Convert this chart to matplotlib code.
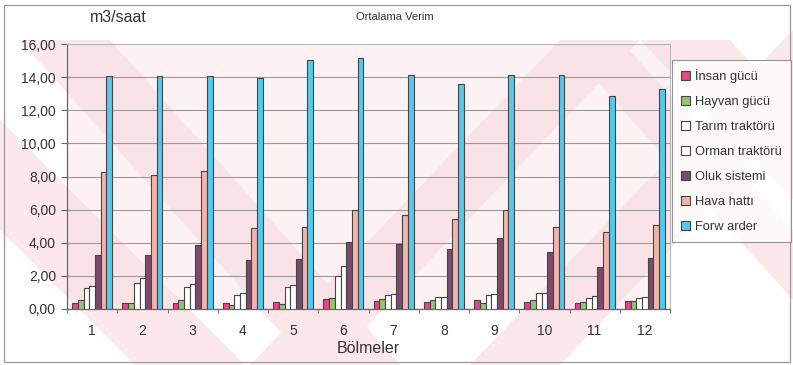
import matplotlib.pyplot as plt
import numpy as np
from matplotlib.patches import Polygon, Rectangle

plt.rcParams['font.family'] = ['Liberation Sans', 'DejaVu Sans']

bolmeler = ['1', '2', '3', '4', '5', '6', '7', '8', '9', '10', '11', '12']
series_names = ['İnsan gücü', 'Hayvan gücü', 'Tarım traktörü', 'Orman traktörü',
                'Oluk sistemi', 'Hava hattı', 'Forw arder']
insan = [0.35, 0.35, 0.35, 0.35, 0.40, 0.59, 0.47, 0.44, 0.53, 0.40, 0.35, 0.51]
hayvan = [0.53, 0.35, 0.53, 0.27, 0.30, 0.67, 0.61, 0.53, 0.39, 0.55, 0.42, 0.51]
tarim = [1.24, 1.58, 1.33, 0.87, 1.31, 2.02, 0.83, 0.75, 0.87, 0.99, 0.69, 0.67]
orman = [1.40, 1.86, 1.50, 0.95, 1.45, 2.59, 0.89, 0.75, 0.93, 0.99, 0.77, 0.75]
oluk = [3.27, 3.27, 3.86, 2.97, 3.00, 4.06, 3.90, 3.60, 4.27, 3.42, 2.53, 3.09]
hava = [8.30, 8.08, 8.32, 4.89, 4.93, 6.00, 5.68, 5.45, 5.96, 4.93, 4.65, 5.10]
forwarder = [14.06, 14.06, 14.08, 13.94, 15.02, 15.15, 14.10, 13.56, 14.15, 14.15, 12.86, 13.28]
colors = ['#e4478c', '#96c46a', '#ffffff', '#ffffff', '#7d4a6e', '#f3b4ab', '#56c9ea']

data = [insan, hayvan, tarim, orman, oluk, hava, forwarder]

fig = plt.figure(figsize=(7.93, 3.65), dpi=100)
fig.patch.set_facecolor('white')

W, H = 793, 365
def px(pts):
    return [(x / W, 1 - y / H) for x, y in pts]

# faint watermark stripes of the scanned page
stripe = '#fce8eb'
for pts in [
    [(20, 40), (110, 40), (400, 365), (310, 365)],
    [(0, 120), (0, 230), (135, 365), (245, 365)],
    [(250, 365), (330, 365), (640, 40), (560, 40)],
    [(470, 365), (560, 365), (793, 120), (793, 30)],
    [(640, 40), (730, 40), (793, 110), (793, 200)],
    [(560, 40), (620, 40), (793, 230), (793, 300)],
]:
    fig.patches.append(Polygon(px(pts), closed=True, transform=fig.transFigure,
                               facecolor=stripe, edgecolor='none', zorder=-5))

# outer chart border
fig.patches.append(Rectangle((4 / W, 1 - 362 / H), 786 / W, 357 / H, transform=fig.transFigure,
                             fill=False, edgecolor='#9a9a9a', lw=0.9, zorder=-4))

ax = fig.add_axes([67 / W, 1 - 309 / H, 603 / W, 265 / H])
ax.set_zorder(2)
ax.set_facecolor((0.975, 0.86, 0.88, 0.35))

x = np.arange(len(bolmeler))
bw = 0.114
for i, (vals, name, c) in enumerate(zip(data, series_names, colors)):
    ax.bar(x + (i - 3) * bw, vals, bw, color=c, edgecolor='#454545', linewidth=0.8,
           label=name, zorder=3)

ax.set_xlim(-0.5, len(bolmeler) - 0.5)
ax.set_ylim(0, 16)
ax.set_yticks(np.arange(0, 17, 2))
ax.set_yticklabels([f'{v:.2f}'.replace('.', ',') for v in np.arange(0, 17, 2)],
                   fontsize=10, color='#333333')
ax.set_xticks(x)
ax.set_xticklabels(bolmeler, fontsize=10, color='#333333')
ax.set_xticks(np.arange(-0.5, len(bolmeler)), minor=True)
ax.tick_params(axis='x', which='major', length=0, pad=11)
ax.tick_params(axis='x', which='minor', length=3, color='#666666', direction='out')
ax.tick_params(axis='y', length=4, color='#666666', pad=4)
ax.grid(axis='y', color='#9a9a9a', linewidth=0.8, zorder=1)
for s in ['top', 'right']:
    ax.spines[s].set_color('#b5b5b5')
    ax.spines[s].set_linewidth(0.7)
for s in ['left', 'bottom']:
    ax.spines[s].set_color('#666666')
    ax.spines[s].set_linewidth(0.9)

ax.set_xlabel('Bölmeler', fontsize=11.5, color='#333333', labelpad=2)

fig.text(90 / W, 1 - 17 / H, 'm3/saat', fontsize=11.5, color='#333333', va='center')
fig.text(395 / W, 1 - 17 / H, 'Ortalama Verim', fontsize=8, color='#333333',
         va='center', ha='center')

leg = fig.legend(loc='upper left', bbox_to_anchor=(672 / W, 1 - 60 / H), fontsize=9.3,
                 frameon=True, fancybox=False, edgecolor='#7a7a7a', facecolor=(1, 1, 1, 0),
                 handlelength=0.7, handleheight=0.7, handletextpad=0.4, labelspacing=1.0,
                 borderpad=0.7, borderaxespad=0)
leg.get_frame().set_linewidth(0.8)
leg.set_zorder(3)
for t in leg.get_texts():
    t.set_color('#333333')

fig.savefig('out.png', dpi=100)
